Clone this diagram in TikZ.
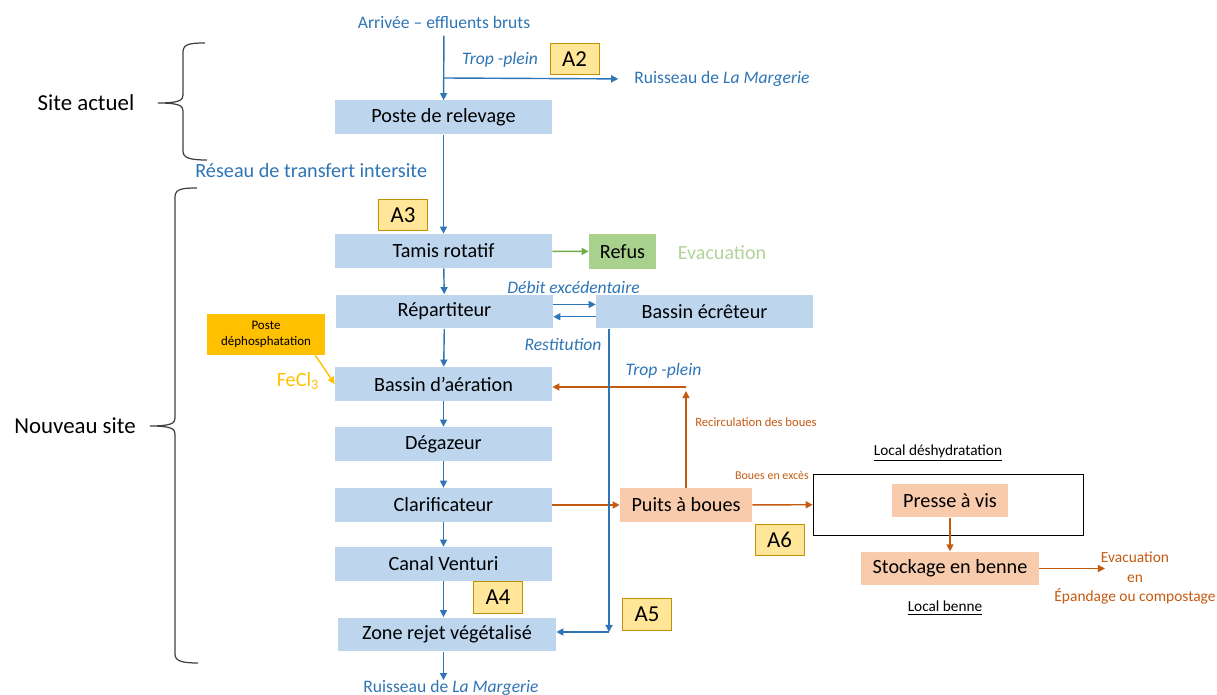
\documentclass[tikz,border=0pt]{standalone}
\usepackage{fontspec}
\setmainfont{Carlito}
\usetikzlibrary{positioning}
\usetikzlibrary{arrows.meta}
\usetikzlibrary{calc}
\definecolor{boxblue}{RGB}{189,214,238}
\definecolor{lineblue}{RGB}{46,117,182}
\definecolor{lineorange}{RGB}{197,90,17}
\definecolor{boxorange}{RGB}{248,203,173}
\definecolor{boxgreen}{RGB}{169,209,142}
\definecolor{linegreen}{RGB}{112,173,71}
\definecolor{txtgreen}{RGB}{176,212,152}
\definecolor{boxgold}{RGB}{255,230,153}
\definecolor{edgegold}{RGB}{191,144,0}
\definecolor{phos}{RGB}{255,192,0}
\definecolor{bracegray}{RGB}{64,64,64}

\begin{document}
\begin{tikzpicture}[x=0.02cm, y=-0.02cm,
    proc/.style = {fill=boxblue, minimum width=4.34cm, minimum height=0.68cm, inner sep=0pt, font=\fontsize{11.5}{13}\selectfont},
    sludge/.style = {fill=boxorange, minimum height=0.67cm, inner sep=0pt, font=\fontsize{11.5}{13}\selectfont},
    tag/.style = {draw=edgegold, fill=boxgold, minimum width=0.98cm, minimum height=0.63cm, inner sep=0pt, font=\fontsize{13}{15}\selectfont},
    bluetxt/.style = {text=lineblue, inner sep=0pt, font=\fontsize{10}{12}\selectfont},
    blueit/.style = {text=lineblue, inner sep=0pt, font=\fontsize{10}{12}\selectfont\itshape},
    orangetxt/.style = {text=lineorange, inner sep=0pt, font=\fontsize{7.2}{9}\selectfont},
    flowb/.style = {draw=lineblue, line width=0.8pt, -{Triangle[length=4pt,width=4pt]}},
    flowo/.style = {draw=lineorange, line width=0.8pt, -{Triangle[length=4pt,width=4pt]}},
    flowg/.style = {draw=linegreen, line width=0.8pt, -{Triangle[length=4pt,width=4pt]}},
    flowy/.style = {draw=phos, line width=0.8pt, -{Triangle[length=4pt,width=4pt]}},
    brace/.style = {draw=bracegray, line width=0.7pt}]
	\useasboundingbox (0,0) rectangle (1217,695);

	\node[inner sep=0pt, font=\fontsize{13}{15}\selectfont] (site1) at (86,103) {Site actuel};
	\node[inner sep=0pt, font=\fontsize{13}{15}\selectfont] (site2) at (75,426) {Nouveau site};
	\draw[brace] (205,43) .. controls (190,43) and (183,44) .. (183,52) -- (183,95)
		.. controls (183,100) and (180,103) .. (158,103)
		.. controls (180,103) and (183,106) .. (183,111) -- (183,151)
		.. controls (183,158) and (190,160) .. (207,160);
	\draw[brace] (197,188) .. controls (182,188) and (175,189) .. (175,197) -- (175,418)
		.. controls (175,423) and (172,426) .. (150,426)
		.. controls (172,426) and (175,429) .. (175,434) -- (175,654)
		.. controls (175,661) and (182,663) .. (198,663);

	\node[bluetxt] (arr) at (444,22) {Arrivée – effluents bruts};
	\node[proc] (poste) at (443.5,117.5) {Poste de relevage};
	\coordinate (tp) at (444,78);
	\node[bluetxt, anchor=west] (ruis1) at (634,79) {Ruisseau de \textit{La Margerie}};
	\node[blueit] (trop1) at (500,60) {Trop -plein};
	\node[tag] (a2) at (574.5,59) {A2};
	\node[bluetxt, anchor=west, font=\fontsize{11.5}{13}\selectfont] (reseau) at (195,171) {Réseau de transfert intersite};

	\node[tag] (a3) at (403,215) {A3};
	\node[proc] (tamis) at (443.5,251) {Tamis rotatif};
	\node[fill=boxgreen, minimum width=1.34cm, minimum height=0.7cm, inner sep=0pt, font=\fontsize{11.5}{13}\selectfont] (refus) at (622.5,251.5) {Refus};
	\node[text=txtgreen, inner sep=0pt, font=\fontsize{11.4}{13}\selectfont] (evac1) at (722,253) {Evacuation};

	\node[proc] (rep) at (444.5,311.5) {Répartiteur};
	\node[proc] (ecr) at (704.5,311.5) {Bassin écrêteur};
	\node[blueit] (debit) at (573.5,287) {Débit excédentaire};
	\node[blueit] (restit) at (563,344) {Restitution};

	\node[fill=phos, minimum width=2.36cm, minimum height=0.82cm, inner sep=0pt, align=center, font=\fontsize{7.4}{9}\selectfont] (dephos) at (266,334.5) {Poste\\déphosphatation};
	\node[text=phos, inner sep=0pt, font=\fontsize{11.5}{13}\selectfont] (fecl) at (298,381) {FeCl\textsubscript{3}};
	\node[proc] (baer) at (443.5,384) {Bassin d’aération};
	\node[blueit] (trop2) at (663.5,371) {Trop -plein};
	\node[orangetxt] (recirc) at (756,422) {Recirculation des boues};

	\node[proc] (degaz) at (443.5,444) {Dégazeur};
	\node[proc] (clar) at (443.5,505) {Clarificateur};
	\node[sludge, minimum width=2.64cm] (puits) at (686,505) {Puits à boues};
	\node[orangetxt, font=\fontsize{6.8}{8}\selectfont] (excess) at (772,475) {Boues en excès};
	\node[draw, minimum width=5.4cm, minimum height=1.22cm] (deshy) at (948,504.5) {};
	\node[inner sep=0pt, font=\fontsize{8.7}{10}\selectfont] (ldeshy) at (938,453) {\underline{Local déshydratation}};
	\node[sludge, minimum width=2.32cm] (presse) at (950,500.5) {Presse à vis};
	\node[tag] (a6) at (779.5,540) {A6};
	\node[sludge, minimum width=3.56cm] (stock) at (950,568.5) {Stockage en benne};
	\node[inner sep=0pt, font=\fontsize{8.7}{10}\selectfont] (lbenne) at (945,608) {\underline{Local benne}};
	\node[orangetxt, align=center, font=\fontsize{8.8}{11.3}\selectfont] (evac2) at (1135,578) {Evacuation\\en\\Épandage ou compostage};
	\coordinate (evend) at (1105,568.5);

	\node[proc] (canal) at (443.5,564) {Canal Venturi};
	\node[tag] (a4) at (498,597.5) {A4};
	\node[tag] (a5) at (647,614.5) {A5};
	\node[proc, minimum width=4.36cm] (zone) at (447,634.5) {Zone rejet végétalisé};
	\node[bluetxt] (ruis2) at (451,688) {Ruisseau de \textit{La Margerie}};
	\coordinate (bend) at (609,632);
	\coordinate (rcup) at (686,391);
	\coordinate (rc) at (686,387);

	\draw[flowb, shorten <=4pt] (arr) -- (poste);
	\draw[flowb, shorten >=9pt] (tp) -- (ruis1.west);
	\draw[flowb] (poste) -- (tamis);
	\draw[flowg] (tamis) -- (refus);
	\draw[flowb] (tamis) -- (rep);
	\draw[flowb] ([yshift=4pt]rep.east) -- ([yshift=4pt]ecr.west);
	\draw[flowb] ([yshift=-3pt]ecr.west) -- ([yshift=-3pt]rep.east);
	\draw[flowb] (rep) -- (baer);
	\draw[flowy] ($(dephos.south east)+(-12,-3)$) -- (baer.west);
	\draw[flowo] (puits) -- (rcup);
	\draw[flowo] (rc) -- (baer.east |- rc);
	\draw[flowb] (baer) -- (degaz);
	\draw[flowb] (degaz) -- (clar);
	\draw[flowb] (clar) -- (canal);
	\draw[flowo] (clar) -- (puits);
	\draw[flowo] (puits) -- (deshy);
	\draw[flowo] (presse) -- (stock);
	\draw[flowo] (stock) -- (evend);
	\draw[flowb] (canal) -- (canal |- zone.north);
	\draw[flowb] (canal |- zone.south) -- (canal |- ruis2.north);
	\draw[flowb] (ecr.south -| bend) -- (bend);
	\draw[flowb] (bend) -- (zone.east |- bend);
\end{tikzpicture}
\end{document}
